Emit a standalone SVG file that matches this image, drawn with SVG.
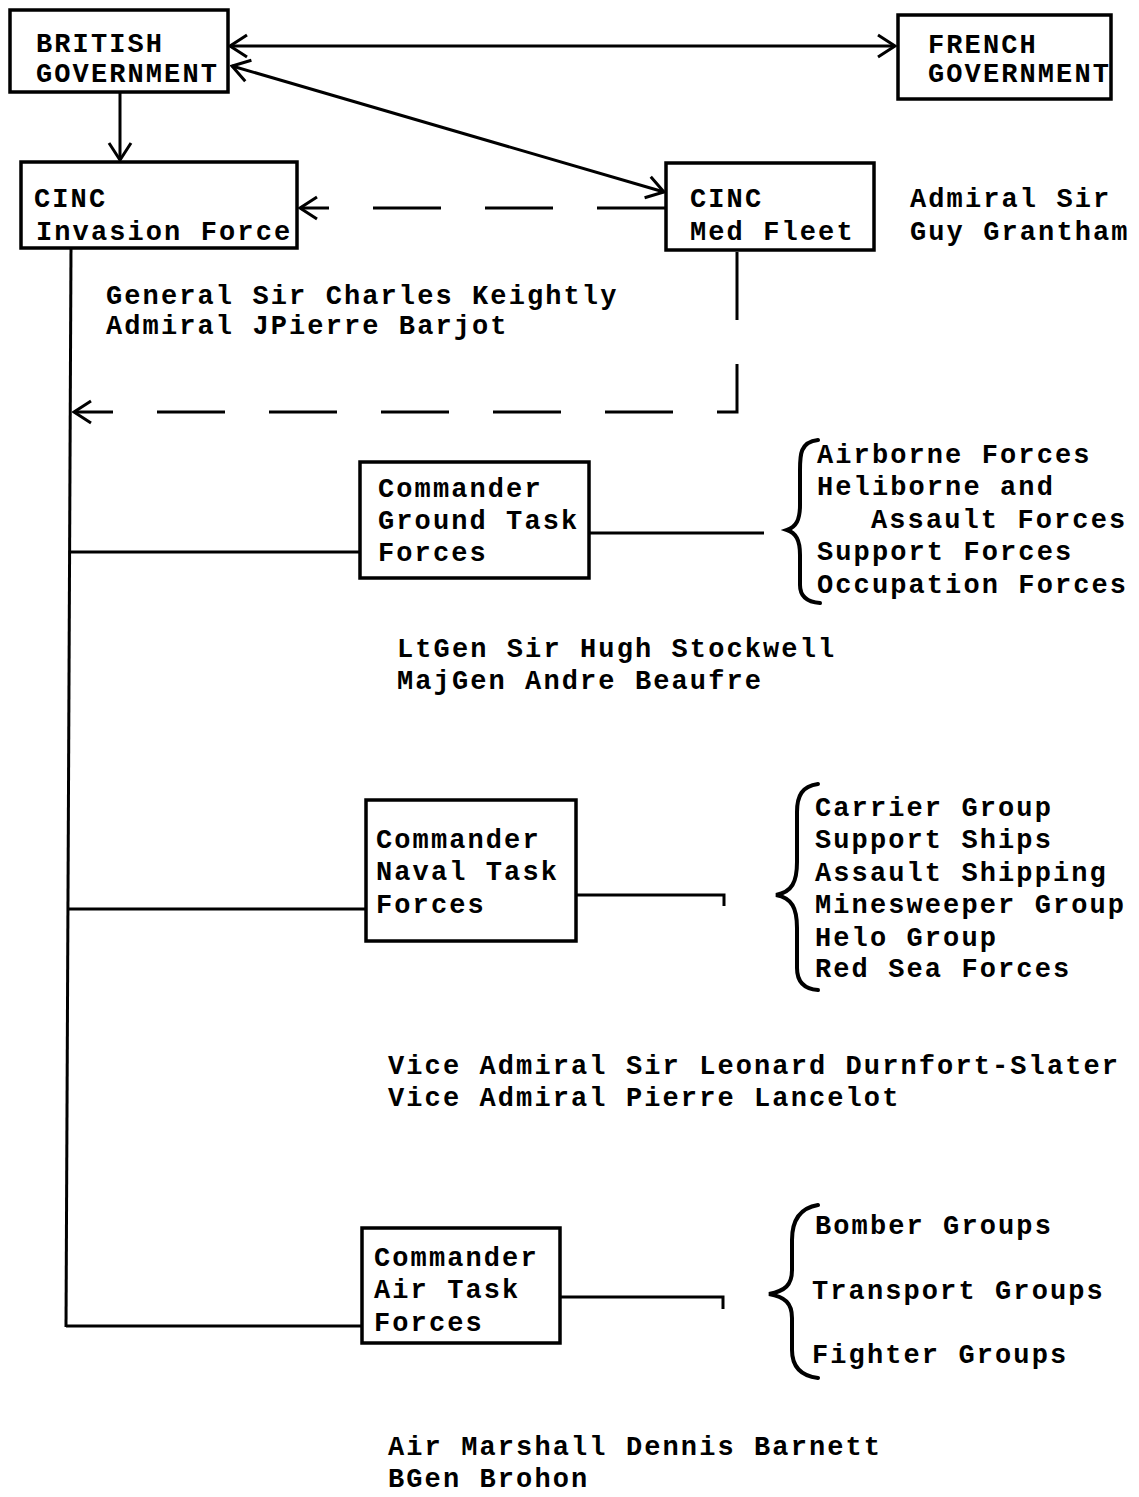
<svg xmlns="http://www.w3.org/2000/svg" width="1139" height="1497" viewBox="0 0 1139 1497">
<style>
  .bg { fill: #ffffff; }
  .box { fill: none; stroke: #000; stroke-width: 3.5; stroke-linejoin: miter; }
  .ln { fill: none; stroke: #000; stroke-width: 3; }
  .dash { fill: none; stroke: #000; stroke-width: 3; stroke-dasharray: 68 44; }
  .brace { fill: none; stroke: #000; stroke-width: 4; stroke-linecap: round; }
  text { font-family: "Liberation Mono", "DejaVu Sans Mono", monospace; font-size: 27px; font-weight: bold; letter-spacing: 2.1px; fill: #000; }
</style>
<defs>
  <marker id="arr" viewBox="0 0 22 26" refX="20" refY="13" markerWidth="22" markerHeight="26" markerUnits="userSpaceOnUse" orient="auto-start-reverse">
    <path d="M3,2 L20,13 L3,24" fill="none" stroke="#000" stroke-width="3" stroke-dasharray="none"/>
  </marker>
</defs>
<rect class="bg" x="0" y="0" width="1139" height="1497"/>

<g id="connectors">
  <!-- British <-> French -->
  <line class="ln" x1="230" y1="46" x2="895" y2="46" marker-start="url(#arr)" marker-end="url(#arr)"/>
  <!-- British <-> Med Fleet -->
  <line class="ln" x1="232" y1="66" x2="664" y2="192" marker-start="url(#arr)" marker-end="url(#arr)"/>
  <!-- British -> CINC Invasion -->
  <line class="ln" x1="120" y1="92" x2="120" y2="160" marker-end="url(#arr)"/>
  <!-- Med Fleet -> CINC Invasion dashed -->
  <line class="dash" x1="665" y1="208" x2="300" y2="208" marker-end="url(#arr)"/>
  <!-- Med Fleet down and left dashed -->
  <polyline class="dash" points="737,252 737,412 74,412" marker-end="url(#arr)"/>
  <!-- main vertical trunk -->
  <line class="ln" x1="71" y1="248" x2="66" y2="1327"/>
  <!-- branches -->
  <line class="ln" x1="70" y1="552" x2="360" y2="552"/>
  <line class="ln" x1="68" y1="909" x2="366" y2="909"/>
  <line class="ln" x1="66" y1="1326" x2="362" y2="1326"/>
  <!-- right connectors -->
  <line class="ln" x1="589" y1="533" x2="764" y2="533"/>
  <polyline class="ln" points="576,895 724,895 724,906"/>
  <polyline class="ln" points="560,1297 723,1297 723,1309"/>
</g>

<g id="british-government">
  <rect class="box" x="10" y="10" width="218" height="82"/>
  <text x="36" y="52">BRITISH</text>
  <text x="36" y="82">GOVERNMENT</text>
</g>

<g id="french-government">
  <rect class="box" x="898" y="15" width="213" height="84"/>
  <text x="928" y="53">FRENCH</text>
  <text x="928" y="82">GOVERNMENT</text>
</g>

<g id="cinc-invasion-force">
  <rect class="box" x="21" y="162" width="276" height="86"/>
  <text x="34" y="207">CINC</text>
  <text x="36" y="240">Invasion Force</text>
</g>

<g id="cinc-med-fleet">
  <rect class="box" x="666" y="163" width="208" height="87"/>
  <text x="690" y="207">CINC</text>
  <text x="690" y="240">Med Fleet</text>
</g>

<g id="med-fleet-commander">
  <text x="910" y="207">Admiral Sir</text>
  <text x="910" y="240">Guy Grantham</text>
</g>

<g id="cinc-invasion-commanders">
  <text x="106" y="304">General Sir Charles Keightly</text>
  <text x="106" y="334">Admiral JPierre Barjot</text>
</g>

<g id="ground-task-forces">
  <rect class="box" x="360" y="462" width="229" height="116"/>
  <text x="378" y="497">Commander</text>
  <text x="378" y="529">Ground Task</text>
  <text x="378" y="561">Forces</text>
</g>

<g id="ground-forces-list">
  <path class="brace" d="M818,440 C800,442 800,455 800,470 L800,505 C800,520 796,527 787,530 C796,533 800,540 800,555 L800,585 C800,596 806,602 820,603"/>
  <text x="817" y="463">Airborne Forces</text>
  <text x="817" y="495">Heliborne and</text>
  <text x="871" y="528">Assault Forces</text>
  <text x="817" y="560">Support Forces</text>
  <text x="817" y="593">Occupation Forces</text>
</g>

<g id="ground-commanders">
  <text x="397" y="657">LtGen Sir Hugh Stockwell</text>
  <text x="397" y="689">MajGen Andre Beaufre</text>
</g>

<g id="naval-task-forces">
  <rect class="box" x="366" y="800" width="210" height="141"/>
  <text x="376" y="848">Commander</text>
  <text x="376" y="880">Naval Task</text>
  <text x="376" y="913">Forces</text>
</g>

<g id="naval-forces-list">
  <path class="brace" d="M818,784 C802,786 797,796 797,812 L797,862 C797,882 792,892 776,895 C792,898 797,908 797,928 L797,968 C797,982 804,989 818,990"/>
  <text x="815" y="816">Carrier Group</text>
  <text x="815" y="848">Support Ships</text>
  <text x="815" y="881">Assault Shipping</text>
  <text x="815" y="913">Minesweeper Group</text>
  <text x="815" y="946">Helo Group</text>
  <text x="815" y="977">Red Sea Forces</text>
</g>

<g id="naval-commanders">
  <text x="388" y="1074">Vice Admiral Sir Leonard Durnfort-Slater</text>
  <text x="388" y="1106">Vice Admiral Pierre Lancelot</text>
</g>

<g id="air-task-forces">
  <rect class="box" x="362" y="1228" width="198" height="115"/>
  <text x="374" y="1266">Commander</text>
  <text x="374" y="1298">Air Task</text>
  <text x="374" y="1331">Forces</text>
</g>

<g id="air-forces-list">
  <path class="brace" d="M818,1205 C800,1208 792,1220 792,1240 L792,1270 C792,1285 785,1291 769,1294 C785,1297 792,1303 792,1318 L792,1350 C792,1368 802,1376 818,1378"/>
  <text x="815" y="1234">Bomber Groups</text>
  <text x="812" y="1299">Transport Groups</text>
  <text x="812" y="1363">Fighter Groups</text>
</g>

<g id="air-commanders">
  <text x="388" y="1455">Air Marshall Dennis Barnett</text>
  <text x="388" y="1487">BGen Brohon</text>
</g>
</svg>
